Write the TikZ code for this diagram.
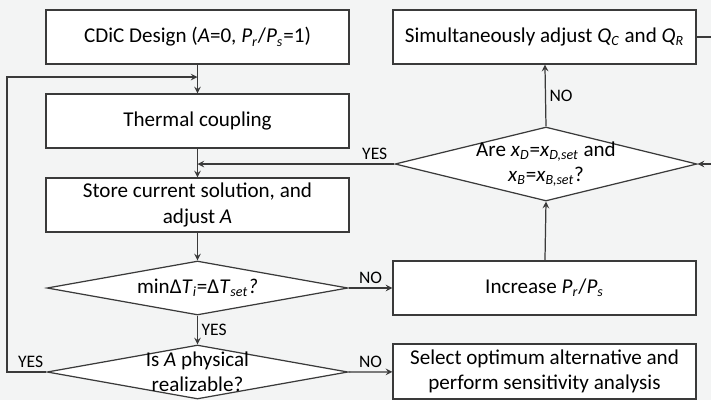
\documentclass[tikz,border=0pt]{standalone}
\usepackage{fontspec}
\setmainfont{Carlito}
\usetikzlibrary{shapes.geometric}
\newcommand{\isub}[1]{\textsubscript{\textit{#1}}}

\begin{document}
\begin{tikzpicture}[x=0.02cm,y=-0.02cm,
  box/.style={draw=linegray, fill=white, line width=0.7pt, minimum width=6.06cm, minimum height=1.08cm, inner sep=1pt, align=center, font=\fontsize{12}{14.5}\selectfont},
  decide/.style={draw=linegray, fill=white, line width=0.7pt, diamond, inner sep=0pt, minimum width=6.02cm, minimum height=1.08cm},
  dtext/.style={align=center, inner sep=0pt, font=\fontsize{12}{14.5}\selectfont},
  flow/.style={draw=linegray, line width=0.7pt, -stealth},
  lbl/.style={font=\fontsize{10}{12}\selectfont, inner sep=2pt}]
\definecolor{linegray}{RGB}{58,58,58}
\definecolor{bggray}{RGB}{243,244,244}
%% Page
\useasboundingbox (0,0) rectangle (711,400);
\fill[bggray] (0,0) rectangle (711,400);
\clip (0,0) rectangle (711,400);
%% Left column
\node[box] (design) at (197.5,37) {CDiC Design (\textit{A}=0, \textit{P}\isub{r}/\textit{P}\isub{s}=1)};
\node[box] (coupling) at (197.5,121) {Thermal coupling};
\node[box] (store) at (197.5,205) {Store current solution, and\\adjust \textit{A}};
\node[decide] (mindt) at (197.5,288) {};
\node[dtext] at (mindt.center) {minΔ\textit{T}\isub{i}=Δ\textit{T}\isub{set}\textit{?}};
\node[decide] (phys) at (197.5,372) {};
\node[dtext] at (phys.center) {Is \textit{A} physical\\realizable?};
%% Right column
\node[box] (adjustq) at (544.5,37) {Simultaneously adjust \textit{Q}\isub{C} and \textit{Q}\isub{R}};
\node[decide, minimum width=6.04cm, minimum height=1.48cm] (check) at (546,164) {};
\node[dtext] at (check.center) {Are \textit{x}\isub{D}=\textit{x}\isub{D,set} and\\\textit{x}\isub{B}=\textit{x}\isub{B,set}?};
\node[box] (incr) at (544.5,288) {Increase \textit{P}\isub{r}/\textit{P}\isub{s}};
\node[box, minimum height=1.1cm] (select) at (544.5,371.5) {Select optimum alternative and\\perform sensitivity analysis};
%% Joins and turning points
\coordinate (ret) at (7,77);
\coordinate (merge1) at (197.5,77);
\coordinate (rtop) at (725,37);
\coordinate (rbot) at (725,164);
%% Connectors
\draw[flow] (design) -- (coupling);
\draw[flow] (coupling) -- (store);
\draw[flow] (store) -- (mindt);
\draw[flow] (mindt) -- node[lbl, right]{YES} (phys);
\draw[flow] (phys.west) -- node[lbl, above, pos=0.4]{YES} (phys.west -| ret) -- (ret) -- (merge1);
\draw[flow] (mindt.east) -- node[lbl, above]{NO} (incr);
\draw[flow] (phys.east) -- node[lbl, above]{NO} (select);
\draw[flow] (incr) -- (check.south);
\draw[flow] (check.north) -- node[lbl, right]{NO} (adjustq);
\draw[flow] (check.west) -- node[lbl, above, pos=0.1]{YES} (check.west -| coupling.south);
\draw[flow] (adjustq.east) -- (rtop) -- (rbot) -- (check.east);
\end{tikzpicture}
\end{document}
